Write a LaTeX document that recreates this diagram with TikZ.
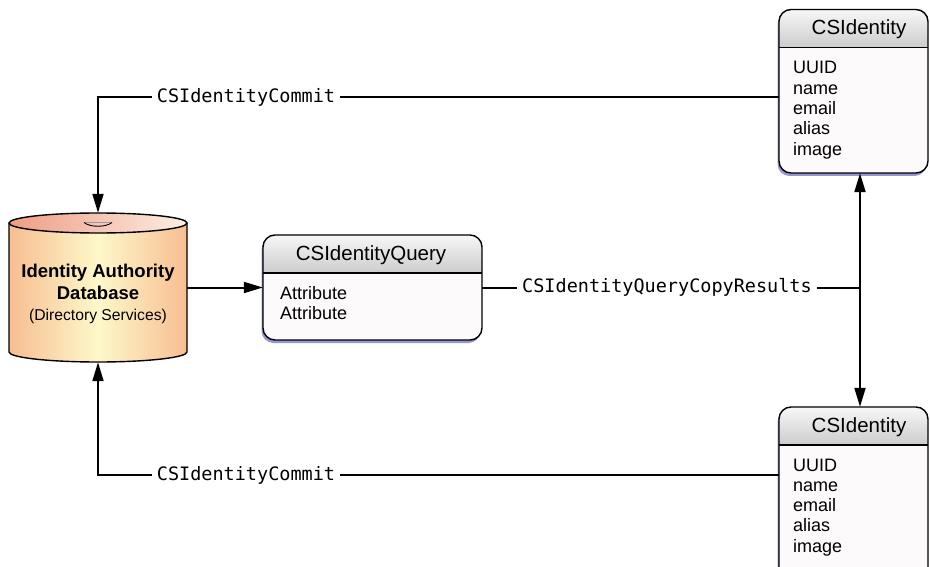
\documentclass[tikz,border=0pt]{standalone}
\usepackage{fontspec}
\setmainfont{Liberation Sans}
\newfontfamily\monof{DejaVu Sans Mono}
\usetikzlibrary{arrows.meta,fit}
\definecolor{cylEdge}{RGB}{247,190,145}
\definecolor{cylMid}{RGB}{253,248,202}
\definecolor{capL}{RGB}{240,156,132}
\definecolor{capR}{RGB}{252,238,228}
\definecolor{bodyc}{RGB}{253,250,252}
\definecolor{hdtop}{RGB}{247,247,247}
\definecolor{hdbot}{RGB}{204,204,204}
\definecolor{shadowc}{RGB}{150,150,212}
\tikzset{
  boxline/.style={line width=1.4pt,draw=black},
  conn/.style={line width=2pt,draw=black},
  arr/.style={conn,-{Triangle[length=19pt,width=11pt]}},
  darr/.style={conn,{Triangle[length=19pt,width=11pt]}-{Triangle[length=19pt,width=11pt]}},
  lbl/.style={fill=white,inner xsep=5pt,inner ysep=2pt,font=\monof\fontsize{18.5}{22}\selectfont},
  titletext/.style={font=\fontsize{20.5}{24}\selectfont,anchor=base,inner sep=0pt},
  itemtext/.style={font=\fontsize{18}{21}\selectfont,anchor=base west,inner sep=0pt},
  dbbold/.style={font=\bfseries\fontsize{18.5}{22}\selectfont,anchor=base,inner sep=0pt},
  dbreg/.style={font=\fontsize{15.7}{19}\selectfont,anchor=base,inner sep=0pt}
}
\newcommand\classbox[7]{%
  \fill[shadowc,rounded corners=12pt] (#2-1.5,#3+3) rectangle ++(#4,#5);
  \fill[bodyc,rounded corners=12pt] (#2,#3) rectangle ++(#4,#5);
  \begin{scope}
    \clip[rounded corners=12pt] (#2,#3) rectangle ++(#4,#5);
    \shade[top color=hdtop,bottom color=hdbot] (#2,#3) rectangle ++(#4,38);
  \end{scope}
  \draw[boxline] (#2,#3+38) -- ++(#4,0);
  \draw[boxline,rounded corners=12pt] (#2,#3) rectangle ++(#4,#5);
  \node[fit={(#2,#3) (#2+#4,#3+#5)},inner sep=0pt] (#1) {};
  \node[titletext] (#1-title) at (#6,#3+25) {#7};
}
\begin{document}
\begin{tikzpicture}[x=1pt,y=-1pt]
\useasboundingbox (0,0) rectangle (930,567);
\clip (0,0) rectangle (930,567);
\fill[white] (0,0) rectangle (930,567);

% database cylinder
\shade[left color=cylEdge,right color=cylEdge,middle color=cylMid]
  (9,223) -- (9,352) arc[start angle=180,end angle=360,x radius=89pt,y radius=10pt] -- (187,223) -- cycle;
\shade[left color=capL,right color=capR] (98,223) ellipse[x radius=89pt,y radius=10pt];
\draw[boxline] (9,223) -- (9,352) arc[start angle=180,end angle=360,x radius=89pt,y radius=10pt] -- (187,223);
\draw[boxline] (98,223) ellipse[x radius=89pt,y radius=10pt];
\draw[line width=0.5pt,draw=black!40] (85,222.5) -- (111,222.5);
\draw[line width=0.9pt] (84,222.5) .. controls (90,227.5) and (106,227.5) .. (112,222.5);
\node[fit={(9,213) (187,362)},inner sep=0pt] (db) {};
\node[dbbold] (db-l1) at (98,277) {Identity Authority};
\node[dbbold] (db-l2) at (98,299) {Database};
\node[dbreg] (db-l3) at (98,320) {(Directory Services)};

% class boxes
\classbox{q}{263}{235}{219}{105}{371}{CSIdentityQuery}
\foreach \t [count=\i from 0] in {Attribute,Attribute}
  \node[itemtext] (q-\i) at (280,299+20*\i) {\t};

\classbox{id1}{779}{9.5}{149}{163.5}{859}{CSIdentity}
\foreach \t [count=\i from 0] in {UUID,name,email,alias,image}
  \node[itemtext] (id1-\i) at (793,74+20.3*\i) {\t};

\classbox{id2}{779}{407}{149}{200}{859}{CSIdentity}
\foreach \t [count=\i from 0] in {UUID,name,email,alias,image}
  \node[itemtext] (id2-\i) at (793,471+20.3*\i) {\t};

% connectors
\coordinate (c1) at (98,97);
\coordinate (c2) at (98,475);
\coordinate (j) at (860,287.5);
\draw[arr] (c1 -| id1.west) -- (c1) -- (db.north);
\draw[arr] (c2 -| id2.west) -- (c2) -- (db.south);
\draw[arr] (db.east) -- (q.west);
\draw[conn] (q.east) -- (j);
\draw[darr] (j |- id1.south) -- (j |- id2.north);

% labels
\node[lbl] (l1) at (246,97) {CSIdentityCommit};
\node[lbl] (l2) at (246,475) {CSIdentityCommit};
\node[lbl] (l3) at (667,287.5) {CSIdentityQueryCopyResults};
\end{tikzpicture}
\end{document}
